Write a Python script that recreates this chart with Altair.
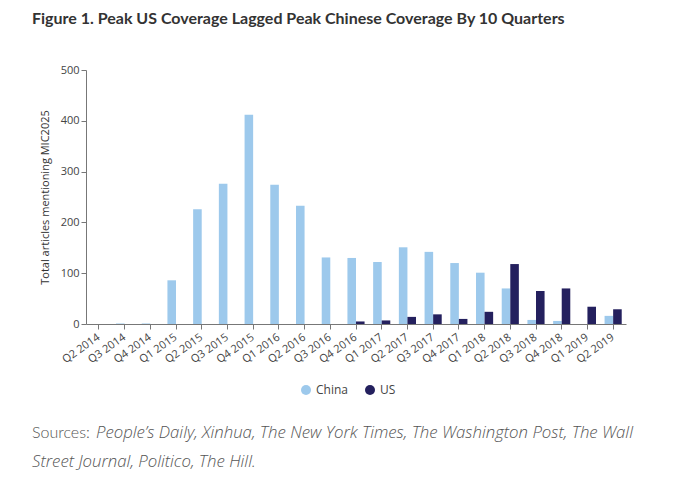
import altair as alt
import pandas as pd

quarters = ["Q2 2014", "Q3 2014", "Q4 2014", "Q1 2015", "Q2 2015", "Q3 2015", "Q4 2015",
            "Q1 2016", "Q2 2016", "Q3 2016", "Q4 2016", "Q1 2017", "Q2 2017", "Q3 2017",
            "Q4 2017", "Q1 2018", "Q2 2018", "Q3 2018", "Q4 2018", "Q1 2019", "Q2 2019"]
china = [0, 1, 1, 86, 226, 276, 412, 274, 233, 131, 130, 122, 151, 142, 120, 101, 70, 8, 6, 0, 16]
us = [0, 0, 0, 0, 0, 0, 0, 0, 0, 0, 5, 7, 14, 19, 10, 24, 118, 65, 70, 34, 29]
series = ["China", "US"]
colors = ["#9DC9EC", "#24205E"]

title_text = "Figure 1. Peak US Coverage Lagged Peak Chinese Coverage By 10 Quarters"
y_title = "Total articles mentioning MIC2025"
src_label = "Sources:"
src_line1 = "People\u2019s Daily, Xinhua, The New York Times, The Washington Post, The Wall"
src_line2 = "Street Journal, Politico, The Hill."

rows = []
for q, c, u in zip(quarters, china, us):
    rows.append({"quarter": q, "series": "China", "value": c})
    rows.append({"quarter": q, "series": "US", "value": u})
df = pd.DataFrame(rows)

TFONT = "Lato"
AFONT = "Open Sans"

bars = alt.Chart(df).mark_bar().encode(
    x=alt.X("quarter:N", sort=quarters, title=None,
            scale=alt.Scale(paddingInner=0, paddingOuter=0),
            axis=alt.Axis(labelAngle=-35, labelAlign="right", labelBaseline="middle",
                          labelFont=AFONT, labelFontSize=11, labelColor="#444",
                          labelPadding=7, tickSize=5, tickColor="#777",
                          domainColor="#777", grid=False)),
    xOffset=alt.XOffset("series:N", sort=series,
                        scale=alt.Scale(paddingInner=0, paddingOuter=0.5)),
    y=alt.Y("value:Q", title=y_title,
            scale=alt.Scale(domain=[0, 500]),
            axis=alt.Axis(values=[0, 100, 200, 300, 400, 500], grid=False,
                          labelFont=AFONT, labelFontSize=11, labelColor="#444",
                          tickSize=5, tickColor="#777", domainColor="#777",
                          titleFont=AFONT, titleFontSize=11, titleFontWeight="normal",
                          titleColor="#333", titlePadding=10)),
    color=alt.Color("series:N", sort=series,
                    scale=alt.Scale(domain=series, range=colors),
                    legend=alt.Legend(title=None, orient="none", direction="horizontal",
                                      legendX=214, legendY=314,
                                      symbolType="circle", symbolSize=100,
                                      symbolStrokeWidth=0, columnPadding=16,
                                      labelFont=AFONT, labelFontSize=12,
                                      labelColor="#444")),
)

def text_layer(txt, x, y, style, size, font):
    return alt.Chart(pd.DataFrame({"t": [txt]})).mark_text(
        align="left", baseline="middle", font=font, fontSize=size,
        fontWeight=300, fontStyle=style, color="#555"
    ).encode(text="t:N", x=alt.value(x), y=alt.value(y))

chart = alt.layer(
    bars,
    text_layer(src_label, -54, 363, "normal", 16, TFONT),
    text_layer(src_line1, 10, 363, "italic", 16.8, AFONT),
    text_layer(src_line2, -54, 392, "italic", 16.8, AFONT),
).properties(
    width=540, height=254,
    title=alt.TitleParams(title_text, anchor="start", frame="bounds",
                          font=TFONT, fontSize=16, fontWeight="bold",
                          color="#333", offset=37),
    padding={"left": 24, "top": 3, "right": 5, "bottom": 5},
).configure_view(stroke=None)

chart.save("out.html", embed_options={"renderer": "svg", "actions": False})
